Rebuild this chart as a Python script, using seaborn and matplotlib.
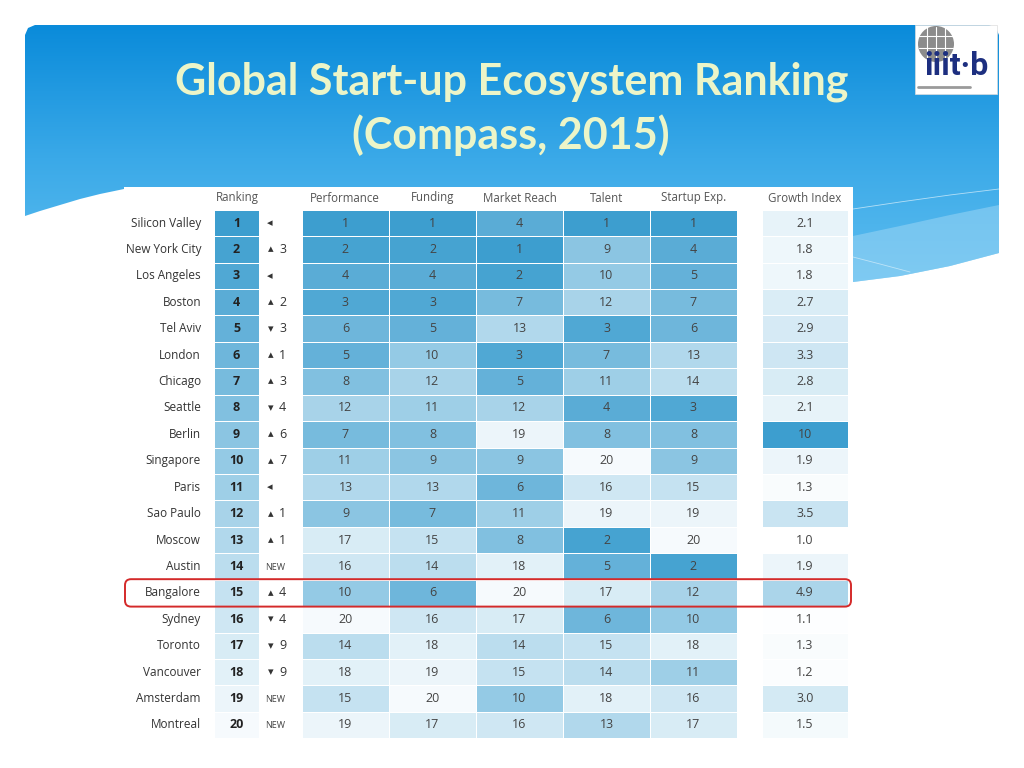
import numpy as np
import pandas as pd
import seaborn as sns
import matplotlib.pyplot as plt
from matplotlib.colors import LinearSegmentedColormap
from matplotlib.patches import Polygon, Rectangle, Circle, FancyBboxPatch

# ---- data ----
cities = ["Silicon Valley", "New York City", "Los Angeles", "Boston", "Tel Aviv",
          "London", "Chicago", "Seattle", "Berlin", "Singapore", "Paris",
          "Sao Paulo", "Moscow", "Austin", "Bangalore", "Sydney", "Toronto",
          "Vancouver", "Amsterdam", "Montreal"]
ranking = list(range(1, 21))
# change vs. previous ranking (None = new entry)
change = [0, 3, 0, 2, -3, 1, 3, -4, 6, 7, 0, 1, 1, None, 4, -4, -9, -9, None, None]
performance = [1, 2, 4, 3, 6, 5, 8, 12, 7, 11, 13, 9, 17, 16, 10, 20, 14, 18, 15, 19]
funding = [1, 2, 4, 3, 5, 10, 12, 11, 8, 9, 13, 7, 15, 14, 6, 16, 18, 19, 20, 17]
market_reach = [4, 1, 2, 7, 13, 3, 5, 12, 19, 9, 6, 11, 8, 18, 20, 17, 14, 15, 10, 16]
talent = [1, 9, 10, 12, 3, 7, 11, 4, 8, 20, 16, 19, 2, 5, 17, 6, 15, 14, 18, 13]
startup_exp = [1, 4, 5, 7, 6, 13, 14, 3, 8, 9, 15, 19, 20, 2, 12, 10, 18, 11, 16, 17]
growth_index = [2.1, 1.8, 1.8, 2.7, 2.9, 3.3, 2.8, 2.1, 10, 1.9, 1.3, 3.5, 1.0,
                1.9, 4.9, 1.1, 1.3, 1.2, 3.0, 1.5]
metric_names = ["Performance", "Funding", "Market Reach", "Talent", "Startup Exp."]
highlight = "Bangalore"

W, H = 1024, 768
FONT = ['Open Sans', 'DejaVu Sans']

sns.set_style("white")
plt.rcParams['font.family'] = FONT

fig = plt.figure(figsize=(W / 100, H / 100), dpi=100)
fig.patch.set_facecolor('white')


def px_axes(x0, y0, x1, y1):
    return fig.add_axes([x0 / W, 1 - y1 / H, (x1 - x0) / W, (y1 - y0) / H])


# ---- slide background ----
bg = fig.add_axes([0, 0, 1, 1])
bg.set_xlim(0, W)
bg.set_ylim(H, 0)
bg.axis('off')

blue_outline = [(25, 35), (28, 28), (35, 25), (989, 25), (996, 28), (999, 35),
                (999, 253), (950, 266), (900, 276), (853, 282), (124, 282),
                (124, 189), (100, 194), (80, 199), (60, 205), (40, 211), (25, 216)]
clip = Polygon(blue_outline, closed=True, fc='none', ec='none')
bg.add_patch(clip)
grad_cmap = LinearSegmentedColormap.from_list('slide', ['#0a8bda', '#3aa9e8', '#60bff0'])
img = bg.imshow(np.linspace(0, 1, 256).reshape(-1, 1), cmap=grad_cmap, aspect='auto',
                extent=(25, 999, 290, 25), origin='upper', zorder=1)
img.set_clip_path(clip)

# lighter wave band on the right
band = Polygon([(853, 236), (900, 226), (950, 215), (999, 205), (999, 253),
                (950, 266), (900, 276), (853, 282)], closed=True,
               fc='#9ad5f5', ec='none', alpha=0.55, zorder=2)
bg.add_patch(band)
bg.plot([853, 900, 950, 999], [209, 202, 195, 189], color='white', lw=0.6, alpha=0.6, zorder=2)
bg.plot([853, 880, 910], [257, 264, 272], color='white', lw=0.6, alpha=0.5, zorder=2)

# title
bg.text(512, 82, "Global Start-up Ecosystem Ranking", ha='center', va='center',
        fontsize=31, fontweight='bold', family=['Lato', 'DejaVu Sans'], color='#ecf5c8', zorder=3)
bg.text(511, 135, "(Compass, 2015)", ha='center', va='center',
        fontsize=31, fontweight='bold', family=['Lato', 'DejaVu Sans'], color='#ecf5c8', zorder=3)

# logo
bg.add_patch(Rectangle((915, 25), 82, 69, fc='white', ec='#dddddd', lw=0.5, zorder=3))
bg.add_patch(Circle((936, 44), 18, fc='#8c8c8c', ec='none', zorder=4))
for dx in (-9, 0, 9):
    bg.plot([936 + dx, 936 + dx], [27, 61], color='white', lw=0.8, zorder=4)
for dy in (-8, 4):
    bg.plot([919, 953], [44 + dy, 44 + dy], color='white', lw=0.8, zorder=4)
bg.text(956, 66, "iiit·b", ha='center', va='center', fontsize=23, fontweight='bold',
        family=['Roboto', 'DejaVu Sans'], color='#1d2f80', zorder=5)
bg.plot([918, 970], [87, 87], color='#9a9a9a', lw=2.0, zorder=5)

# table image area
bg.add_patch(Rectangle((124, 187), 729, 555, fc='white', ec='none', zorder=3))

row_top, row_h = 209.8, 26.42
n = len(cities)
row_y = [row_top + row_h * (i + 0.5) for i in range(n)]

for city, y in zip(cities, row_y):
    bg.text(201, y, city, ha='right', va='center', fontsize=8.5, color='#333333', zorder=4)

for c, y in zip(change, row_y):
    if c is None:
        bg.text(275, y + 1, "NEW", ha='center', va='center', fontsize=6.5, color='#444444', zorder=4)
    elif c == 0:
        bg.text(270, y, "◂", ha='center', va='center', fontsize=8, color='#333333',
                family=['DejaVu Sans'], zorder=4)
    else:
        sym = "▴" if c > 0 else "▾"
        bg.text(271, y, sym, ha='center', va='center', fontsize=8, color='#333333',
                family=['DejaVu Sans'], zorder=4)
        bg.text(279, y, str(abs(c)), ha='left', va='center', fontsize=9, color='#333333', zorder=4)

headers = [("Ranking", 237)] + list(zip(metric_names, [345, 433, 520, 607, 694])) + [("Growth Index", 805)]
for label, x in headers:
    bg.text(x, 198, label, ha='center', va='center', fontsize=8.3, color='#555555', zorder=4)

# ---- heatmaps ----
rank_cmap = LinearSegmentedColormap.from_list('rank', ['#3d9ecf', '#ffffff'])
grow_cmap = LinearSegmentedColormap.from_list('grow', ['#ffffff', '#3d9ecf'])
row_bottom = row_top + row_h * n

rank_df = pd.DataFrame({"Ranking": ranking}, index=cities)
ax_rank = px_axes(214, row_top, 259, row_bottom)
sns.heatmap(rank_df, ax=ax_rank, cmap=rank_cmap, vmin=1, vmax=21, cbar=False,
            annot=True, fmt='d', linewidths=0.4, linecolor='white',
            annot_kws={'color': '#222222', 'fontsize': 9, 'fontweight': 'bold'},
            xticklabels=False, yticklabels=False)

metrics_df = pd.DataFrame(dict(zip(metric_names,
                                   [performance, funding, market_reach, talent, startup_exp])),
                          index=cities)
ax_met = px_axes(302, row_top, 737, row_bottom)
sns.heatmap(metrics_df, ax=ax_met, cmap=rank_cmap, vmin=1, vmax=21, cbar=False,
            annot=True, fmt='d', linewidths=0.6, linecolor='white',
            annot_kws={'color': '#444444', 'fontsize': 9},
            xticklabels=False, yticklabels=False)

grow_df = pd.DataFrame({"Growth Index": growth_index}, index=cities)
grow_labels = np.array([["10" if v >= 10 else f"{v:.1f}"] for v in growth_index])
ax_grow = px_axes(762, row_top, 848, row_bottom)
sns.heatmap(grow_df, ax=ax_grow, cmap=grow_cmap, vmin=1.0, vmax=10, cbar=False,
            annot=grow_labels, fmt='', linewidths=0.4, linecolor='white',
            annot_kws={'color': '#444444', 'fontsize': 9},
            xticklabels=False, yticklabels=False)

for ax in (ax_rank, ax_met, ax_grow):
    ax.set_xlabel('')
    ax.set_ylabel('')

# ---- highlight box ----
top = fig.add_axes([0, 0, 1, 1])
top.set_xlim(0, W)
top.set_ylim(H, 0)
top.axis('off')
top.patch.set_alpha(0)
hi = cities.index(highlight)
top.add_patch(FancyBboxPatch((125, row_top + row_h * hi - 0.5), 726, row_h + 1,
                             boxstyle='round,pad=0,rounding_size=6',
                             fc='none', ec='#d42a2a', lw=1.4))

fig.savefig('out.png', dpi=100)
